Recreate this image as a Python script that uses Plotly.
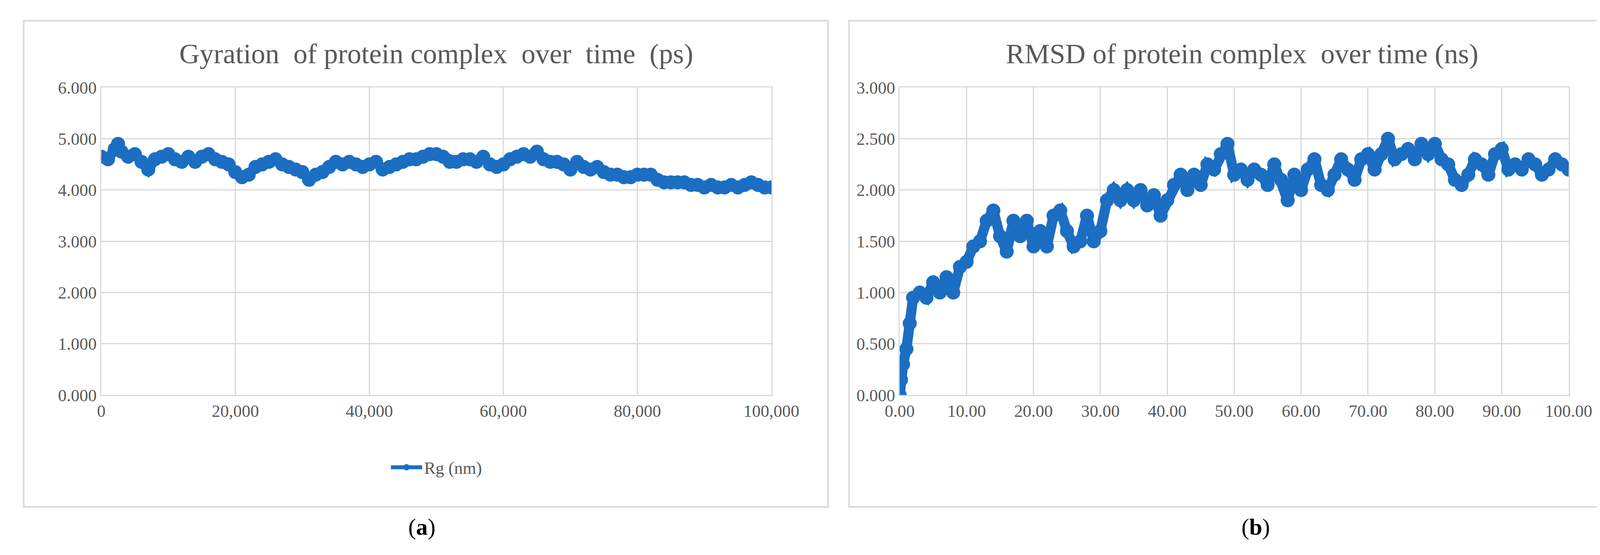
import plotly.graph_objects as go

# Rg (nm) vs time (ps)
rg_time = [0, 1000, 2000, 2500, 3000, 4000, 5000, 6000, 7000, 8000, 9000, 10000, 11000, 12000, 13000,
           14000, 15000, 16000, 17000, 18000, 19000, 20000, 21000, 22000, 23000, 24000, 25000, 26000,
           27000, 28000, 29000, 30000, 31000, 32000, 33000, 34000, 35000, 36000, 37000, 38000, 39000,
           40000, 41000, 42000, 43000, 44000, 45000, 46000, 47000, 48000, 49000, 50000, 51000, 52000,
           53000, 54000, 55000, 56000, 57000, 58000, 59000, 60000, 61000, 62000, 63000, 64000, 65000,
           66000, 67000, 68000, 69000, 70000, 71000, 72000, 73000, 74000, 75000, 76000, 77000, 78000,
           79000, 80000, 81000, 82000, 83000, 84000, 85000, 86000, 87000, 88000, 89000, 90000, 91000,
           92000, 93000, 94000, 95000, 96000, 97000, 98000, 99000, 100000]
rg_vals = [4.65, 4.6, 4.8, 4.9, 4.75, 4.65, 4.7, 4.55, 4.4, 4.6, 4.65, 4.7, 4.6, 4.55, 4.65,
           4.55, 4.65, 4.7, 4.6, 4.55, 4.5, 4.35, 4.25, 4.3, 4.45, 4.5, 4.55, 4.6, 4.5,
           4.45, 4.4, 4.35, 4.2, 4.3, 4.35, 4.45, 4.55, 4.5, 4.55, 4.5, 4.45,
           4.5, 4.55, 4.4, 4.45, 4.5, 4.55, 4.6, 4.6, 4.65, 4.7, 4.7, 4.65, 4.55,
           4.55, 4.6, 4.6, 4.55, 4.65, 4.5, 4.45, 4.5, 4.6, 4.65, 4.7, 4.65, 4.75,
           4.6, 4.55, 4.55, 4.5, 4.4, 4.55, 4.45, 4.4, 4.45, 4.35, 4.3, 4.3, 4.25,
           4.25, 4.3, 4.3, 4.3, 4.2, 4.15, 4.15, 4.15, 4.15, 4.1, 4.1, 4.05, 4.1,
           4.05, 4.05, 4.1, 4.05, 4.1, 4.15, 4.1, 4.05, 4.05]

# RMSD vs time (ns)
rmsd_time = [0, 0.2, 0.5, 1, 1.5, 2, 3, 4, 5, 6, 7, 8, 9, 10, 11, 12, 13, 14, 15, 16, 17, 18, 19, 20,
             21, 22, 23, 24, 25, 26, 27, 28, 29, 30, 31, 32, 33, 34, 35, 36, 37, 38, 39, 40, 41, 42,
             43, 44, 45, 46, 47, 48, 49, 50, 51, 52, 53, 54, 55, 56, 57, 58, 59, 60, 61, 62, 63, 64,
             65, 66, 67, 68, 69, 70, 71, 72, 73, 74, 75, 76, 77, 78, 79, 80, 81, 82, 83, 84, 85, 86,
             87, 88, 89, 90, 91, 92, 93, 94, 95, 96, 97, 98, 99, 100]
rmsd_vals = [0.0, 0.15, 0.3, 0.45, 0.7, 0.95, 1.0, 0.95, 1.1, 1.0, 1.15, 1.0, 1.25, 1.3, 1.45, 1.5, 1.7,
             1.8, 1.55, 1.4, 1.7, 1.55, 1.7, 1.45, 1.6, 1.45, 1.75, 1.8, 1.6, 1.45, 1.5, 1.75, 1.5,
             1.6, 1.9, 2.0, 1.9, 2.0, 1.9, 2.0, 1.85, 1.95, 1.75, 1.9, 2.05, 2.15, 2.0, 2.15, 2.05,
             2.25, 2.2, 2.35, 2.45, 2.15, 2.2, 2.1, 2.2, 2.15, 2.05, 2.25, 2.1, 1.9, 2.15, 2.0, 2.2,
             2.3, 2.05, 2.0, 2.15, 2.3, 2.2, 2.1, 2.3, 2.35, 2.2, 2.35, 2.5, 2.3, 2.35, 2.4, 2.3,
             2.45, 2.35, 2.45, 2.3, 2.25, 2.1, 2.05, 2.15, 2.3, 2.25, 2.15, 2.35, 2.4, 2.2, 2.25,
             2.2, 2.3, 2.25, 2.15, 2.2, 2.3, 2.25, 2.2]

BLUE = "#1b6ec2"
GRID = "#d9d9d9"
TXT = "#595959"
FONT = "Liberation Serif"

fig = go.Figure()
fig.add_trace(go.Scatter(x=rg_time, y=rg_vals, mode="lines+markers", name="Rg (nm)",
                         line=dict(color=BLUE, width=26), marker=dict(color=BLUE, size=36),
                         xaxis="x", yaxis="y"))
fig.add_trace(go.Scatter(x=rmsd_time, y=rmsd_vals, mode="lines+markers", name="RMSD",
                         line=dict(color=BLUE, width=26), marker=dict(color=BLUE, size=36),
                         xaxis="x2", yaxis="y2", showlegend=False, cliponaxis=True))

axis_common = dict(showgrid=True, gridcolor=GRID, gridwidth=3, showline=True, linecolor=GRID,
                   linewidth=3, mirror=True, zeroline=False, ticks="",
                   tickfont=dict(family=FONT, size=44, color=TXT))

fig.update_layout(
    width=4332, height=1422,
    paper_bgcolor="white", plot_bgcolor="white",
    margin=dict(l=0, r=0, t=0, b=0),
    font=dict(family=FONT, color=TXT),
    xaxis=dict(domain=[0.0503, 0.4566], range=[0, 100000], dtick=20000, tickformat=",d", **axis_common),
    yaxis=dict(domain=[0.286, 0.860], range=[0, 6], dtick=1, tickformat=".3f", **axis_common),
    xaxis2=dict(domain=[0.5344, 0.9400], range=[0, 100], dtick=10, tickformat=".2f", anchor="y2",
                **axis_common),
    yaxis2=dict(domain=[0.286, 0.860], range=[0, 3], dtick=0.5, tickformat=".3f", anchor="x2",
                **axis_common),
    legend=dict(orientation="h", x=0.2535, xanchor="center", y=0.151, yanchor="middle",
                font=dict(family=FONT, size=44, color=TXT), itemwidth=80),
    shapes=[
        dict(type="rect", xref="paper", yref="paper", x0=14 / 4332, x1=2127 / 4332,
             y0=1 - 1312 / 1422, y1=1 - 22 / 1422, line=dict(color=GRID, width=4)),
        dict(type="rect", xref="paper", yref="paper", x0=2182 / 4332, x1=4290 / 4332,
             y0=1 - 1312 / 1422, y1=1 - 22 / 1422, line=dict(color=GRID, width=4)),
    ],
    annotations=[
        dict(text="Gyration  of protein complex  over  time  (ps)", x=1098 / 4332, y=1 - 110 / 1422,
             xref="paper", yref="paper", xanchor="center", yanchor="middle", showarrow=False,
             font=dict(family=FONT, size=72, color=TXT)),
        dict(text="RMSD of protein complex  over time (ns)", x=3215 / 4332, y=1 - 110 / 1422,
             xref="paper", yref="paper", xanchor="center", yanchor="middle", showarrow=False,
             font=dict(family=FONT, size=72, color=TXT)),
        dict(text="(<b>a</b>)", x=1060 / 4332, y=1 - 1365 / 1422, xref="paper", yref="paper",
             xanchor="center", yanchor="middle", showarrow=False,
             font=dict(family=FONT, size=60, color="black")),
        dict(text="(<b>b</b>)", x=3250 / 4332, y=1 - 1365 / 1422, xref="paper", yref="paper",
             xanchor="center", yanchor="middle", showarrow=False,
             font=dict(family=FONT, size=60, color="black")),
    ],
)

fig.write_html("out.html")
